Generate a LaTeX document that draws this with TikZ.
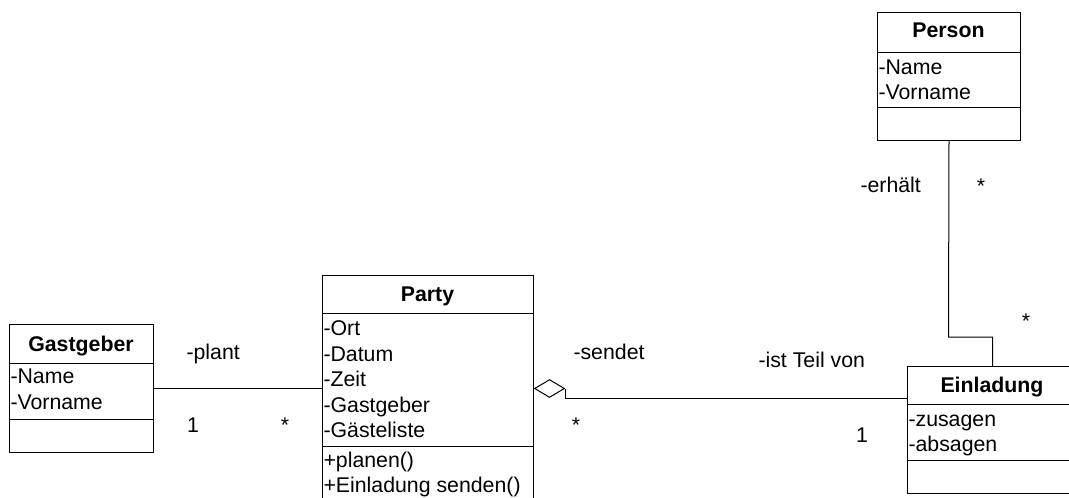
\documentclass[tikz,border=0pt]{standalone}
\usepackage{fontspec}
\setmainfont{Liberation Sans}
\usetikzlibrary{shapes.geometric}
\begin{document}
\begin{tikzpicture}[x=1pt,y=-1pt,
  line width=1pt,
  box/.style={draw, rectangle, inner sep=0pt, anchor=north west},
  ttl/.style={anchor=base, inner sep=0pt, font=\fontsize{21.3}{24}\selectfont\bfseries},
  txt/.style={anchor=base west, inner sep=0pt, font=\fontsize{21.3}{24}\selectfont},
  lbl/.style={anchor=base west, inner sep=0pt, font=\fontsize{21.3}{24}\selectfont},
  mult/.style={anchor=base, inner sep=0pt, font=\fontsize{21.3}{24}\selectfont},
  agg/.style={draw, diamond, inner sep=0pt, minimum width=30pt, minimum height=18pt, fill=white}]
\useasboundingbox (0,0) rectangle (1069,498);
\clip (0,0) rectangle (1069,498);
\fill[white] (0,0) rectangle (1069,498);

% Person
\node[box, minimum width=143pt, minimum height=128pt] (person) at (877,12) {};
\draw (877,52) -- (1020,52);
\draw (877,107) -- (1020,107);
\node[ttl] (personT) at (948.5,37) {Person};
\node[txt] (personA1) at (878,74) {-Name};
\node[txt] (personA2) at (878,99) {-Vorname};

% Gastgeber
\node[box, minimum width=144pt, minimum height=128pt] (gast) at (9,324) {};
\draw (9,363) -- (153,363);
\draw (9,419) -- (153,419);
\node[ttl] (gastT) at (81,351) {Gastgeber};
\node[txt] (gastA1) at (10,383) {-Name};
\node[txt] (gastA2) at (10,409) {-Vorname};

% Party
\node[box, minimum width=211pt, minimum height=235pt] (party) at (322,275) {};
\draw (322,313) -- (533,313);
\draw (322,446) -- (533,446);
\node[ttl] (partyT) at (427.5,301) {Party};
\node[txt] (partyA1) at (323,335) {-Ort};
\node[txt] (partyA2) at (323,361) {-Datum};
\node[txt] (partyA3) at (323,386) {-Zeit};
\node[txt] (partyA4) at (323,412) {-Gastgeber};
\node[txt] (partyA5) at (323,437) {-Gästeliste};
\node[txt] (partyO1) at (323,467) {+planen()};
\node[txt] (partyO2) at (323,492) {+Einladung senden()};

% Einladung
\node[box, minimum width=170pt, minimum height=127pt] (einl) at (907,366) {};
\draw (907,404) -- (1077,404);
\draw (907,460) -- (1077,460);
\node[ttl] (einlT) at (992,392) {Einladung};
\node[txt] (einlA1) at (908,426) {-zusagen};
\node[txt] (einlA2) at (908,451) {-absagen};

% Connectors
\draw (gast.east) -- (gast.east -| party.west);
\node[agg, anchor=west] (dia) at (party.east |- gast.east) {};
\coordinate (einlIn) at (907,398);
\draw (dia.east) |- (einlIn);
\coordinate (bend) at (948.5,337);
\draw (person.south) -- (bend) -| (einl.north);

% Labels
\node[lbl] (l1) at (186,359) {-plant};
\node[mult] (m1) at (193,432) {1};
\node[mult] (m2) at (285,432) {*};
\node[lbl] (l2) at (573,359) {-sendet};
\node[mult] (m3) at (576,432) {*};
\node[lbl] (l3) at (758,367) {-ist Teil von};
\node[mult] (m4) at (862,442) {1};
\node[lbl] (l4) at (860,192) {-erhält};
\node[mult] (m5) at (981,193) {*};
\node[mult] (m6) at (1026,328) {*};
\end{tikzpicture}
\end{document}
